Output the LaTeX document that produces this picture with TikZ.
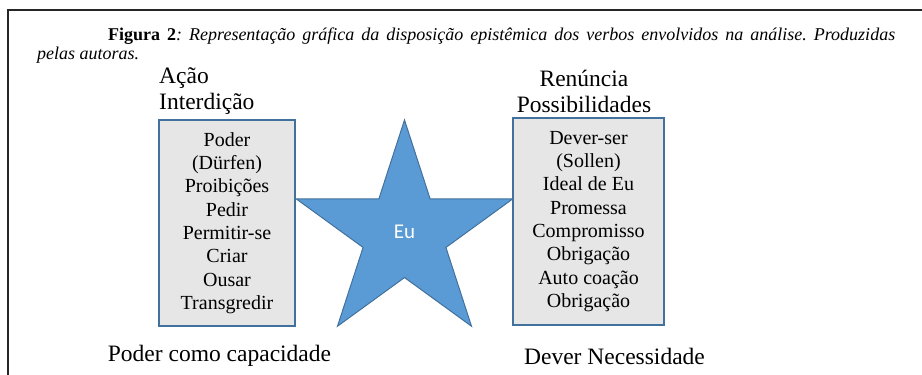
\documentclass[tikz,border=0pt]{standalone}
\usepackage{fontspec}
\setmainfont{Liberation Serif}
\newfontfamily\eufont{Carlito}
\usetikzlibrary{shapes.geometric}
\definecolor{starblue}{HTML}{5B9BD5}
\definecolor{edgeblue}{HTML}{41719C}
\definecolor{boxgray}{HTML}{E7E6E6}

\begin{document}
\begin{tikzpicture}[x=1pt, y=-1pt]
\tikzstyle{verbbox} = [draw=edgeblue, line width=1.5pt, fill=boxgray, align=center, inner sep=0pt, font=\fontsize{20}{23.3}\selectfont]
\tikzstyle{head} = [inner sep=0pt, font=\fontsize{23.5}{26}\selectfont]
\tikzstyle{foot} = [inner sep=0pt, font=\fontsize{23.5}{26}\selectfont]

\useasboundingbox (0,0) rectangle (922,375);
\draw[line width=1.8pt, color=black!85] (8,375) -- (8,10) -- (922,10);

\node[anchor=north west, text width=858pt, align=justify, inner sep=0pt, font=\fontsize{18}{19}\selectfont\frenchspacing] (caption) at (37,28)
  {\hspace*{71pt}\textbf{Figura 2}\textit{: Representação gráfica da disposição epistêmica dos verbos envolvidos na análise. Produzidas\linebreak pelas autoras.}};

\node[head, align=left, anchor=west] (acao) at (159,91) {Ação\\Interdição};
\node[head, align=center] (renuncia) at (584,91) {Renúncia\\Possibilidades};

\node[verbbox, minimum width=136pt, minimum height=206pt] (poder) at (227,223)
  {Poder\\(Dürfen)\\Proibições\\Pedir\\Permitir-se\\Criar\\Ousar\\Transgredir};
\node[verbbox, minimum width=151pt, minimum height=207pt] (dever) at (588.5,221.5)
  {Dever-ser\\(Sollen)\\Ideal de Eu\\Promessa\\Compromisso\\Obrigação\\Auto coação\\Obrigação};

\node[star, star points=5, star point ratio=2.618, minimum size=228pt, inner sep=0pt,
  fill=starblue, draw=edgeblue, line width=1pt, text=white,
  font=\eufont\fontsize{21}{24}\selectfont] (eu) at (404.5,234) {\raisebox{4pt}{Eu}};

\node[foot] (capacidade) at (219.5,356) {Poder como capacidade};
\node[foot] (necessidade) at (614.5,356) {Dever Necessidade};
\end{tikzpicture}
\end{document}
